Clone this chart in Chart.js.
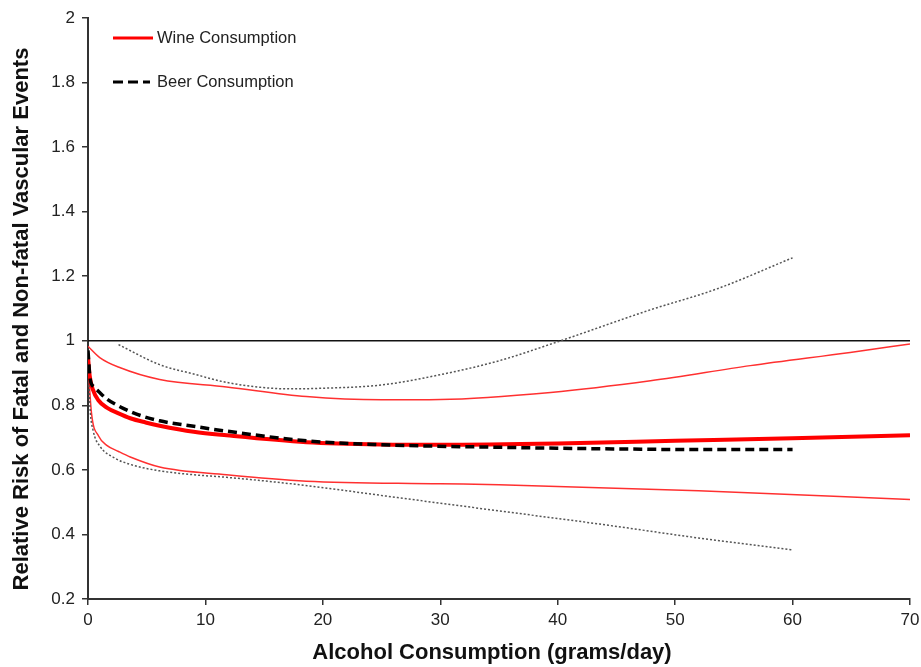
<!DOCTYPE html>
<html>
<head>
<meta charset="utf-8">
<script src="https://cdn.jsdelivr.net/npm/chart.js@4.4.1/dist/chart.umd.min.js"></script>
<style>
	html, body { margin: 0; padding: 0; background: #fff; }
</style>
</head>
<body>
<canvas id="myChart" width="921" height="667"></canvas>
<script>
/* 음주량에 따른 혈관 사건 상대위험 */
var xTicks = [0, 10, 20, 30, 40, 50, 60, 70];
var yTicks = [0.2, 0.4, 0.6, 0.8, 1, 1.2, 1.4, 1.6, 1.8, 2];
var legendLabels = ['Wine Consumption', 'Beer Consumption'];
var xTitle = 'Alcohol Consumption (grams/day)';
var yTitle = 'Relative Risk of Fatal and Non-fatal Vascular Events';

// wine - point estimate
var wineX = [0, 0.15, 0.4, 0.9, 1.6, 2.6, 3.6, 4.9, 6.1, 9, 11.8, 18.6, 25, 30, 40, 50, 60, 70];
var wineY = [0.95, 0.89, 0.85, 0.815, 0.793, 0.775, 0.76, 0.747, 0.737, 0.718, 0.707, 0.686, 0.679, 0.678, 0.682, 0.69, 0.698, 0.707];
// wine - 95% CI
var wineUpX = [0, 1, 2.7, 6.1, 11.8, 18.6, 25, 30, 39.4, 47.9, 56.4, 64.9, 70];
var wineUpY = [0.983, 0.948, 0.917, 0.88, 0.857, 0.827, 0.817, 0.818, 0.84, 0.876, 0.923, 0.964, 0.99];
var wineLoX = [0, 0.3, 0.9, 1.6, 2.6, 3.6, 6.1, 11.8, 18.6, 30, 35, 52, 70];
var wineLoY = [0.93, 0.775, 0.705, 0.676, 0.657, 0.64, 0.609, 0.585, 0.565, 0.557, 0.554, 0.535, 0.508];

// beer - point estimate
var beerX = [0, 0.17, 0.5, 0.9, 1.6, 2.6, 3.6, 4.6, 6.1, 9, 11.8, 18.6, 25, 35, 45, 52, 60];
var beerY = [0.97, 0.885, 0.857, 0.843, 0.82, 0.798, 0.781, 0.767, 0.752, 0.735, 0.72, 0.69, 0.678, 0.67, 0.665, 0.663, 0.663];
// beer - 95% CI
var beerUpX = [2.6, 6.1, 9, 11.8, 14.65, 17, 20, 25, 30, 35, 40, 47.9, 53.5, 60];
var beerUpY = [0.988, 0.926, 0.897, 0.871, 0.856, 0.851, 0.853, 0.863, 0.895, 0.938, 0.997, 1.096, 1.16, 1.257];
var beerLoX = [0, 0.17, 0.45, 1, 2.2, 3.6, 6.1, 9, 11.8, 18, 26.6, 35, 43.6, 52, 60];
var beerLoY = [0.95, 0.793, 0.72, 0.674, 0.638, 0.617, 0.597, 0.585, 0.577, 0.554, 0.513, 0.473, 0.432, 0.389, 0.352];

// reference line RR = 1
var refX = [0, 70];
var refY = [1, 1];

function toPoints(xs, ys) {
	return xs.map(function (x, i) {
		return { x: x, y: ys[i] };
	});
}

var FONT = "'Liberation Sans', Arial, sans-serif";
Chart.defaults.font.family = FONT;
Chart.defaults.color = '#222';

function lineSet(label, xs, ys, color, width, dash, order) {
	return {
		label: label,
		data: toPoints(xs, ys),
		borderColor: color,
		borderWidth: width,
		borderDash: dash,
		pointRadius: 0,
		fill: false,
		cubicInterpolationMode: 'monotone',
		order: order
	};
}

// legend + axis titles
const legendPlugin = {
	id: 'legendPlugin',
	afterDraw(chart) {
		const ctx = chart.ctx;
		ctx.save();
		ctx.font = "16.5px " + FONT;
		ctx.textBaseline = 'middle';
		ctx.fillStyle = '#222';
		// wine
		ctx.strokeStyle = '#ff0000';
		ctx.lineWidth = 3;
		ctx.setLineDash([]);
		ctx.beginPath();
		ctx.moveTo(113, 38);
		ctx.lineTo(153, 38);
		ctx.stroke();
		ctx.fillText(legendLabels[0], 157, 38);
		// beer
		ctx.strokeStyle = '#000';
		ctx.setLineDash([10, 5]);
		ctx.beginPath();
		ctx.moveTo(113, 82);
		ctx.lineTo(150, 82);
		ctx.stroke();
		ctx.fillText(legendLabels[1], 157, 82);

		// titles
		ctx.fillStyle = '#111';
		ctx.font = "bold 22px " + FONT;
		ctx.textAlign = 'center';
		ctx.fillText(xTitle, 492, 653);
		ctx.translate(22, 319);
		ctx.rotate(-Math.PI / 2);
		ctx.fillText(yTitle, 0, 0);
		ctx.restore();
	}
};

var ctx = document.getElementById('myChart');
var myChart = new Chart(ctx, {
	type: 'line',
	data: {
		datasets: [
			lineSet('ref', refX, refY, '#111', 1.5, [], 6),
			lineSet('wine upper', wineUpX, wineUpY, '#ff3030', 1.5, [], 4),
			lineSet('wine lower', wineLoX, wineLoY, '#ff3030', 1.5, [], 4),
			lineSet('beer upper', beerUpX, beerUpY, '#555', 1.5, [2, 2], 3),
			lineSet('beer lower', beerLoX, beerLoY, '#555', 1.5, [2, 2], 3),
			lineSet(legendLabels[0], wineX, wineY, '#ff0000', 4, [], 2),
			lineSet(legendLabels[1], beerX, beerY, '#000', 3.5, [9, 5], 1)
		]
	},
	options: {
		responsive: false,
		animation: false,
		layout: {
			padding: { left: 0, right: 11, top: 18, bottom: 0 }
		},
		plugins: {
			legend: { display: false },
			tooltip: { enabled: false }
		},
		scales: {
			x: {
				type: 'linear',
				min: 0,
				max: 70,
				afterBuildTicks: function (scale) {
					scale.ticks = xTicks.map(function (v) { return { value: v }; });
				},
				afterFit: function (scale) {
					scale.paddingRight = 0;
					scale.paddingLeft = 0;
					scale.height = 68;
				},
				ticks: {
					font: { size: 17 },
					color: '#222',
					padding: 5,
					maxRotation: 0,
					autoSkip: false
				},
				grid: {
					drawOnChartArea: false,
					drawTicks: true,
					tickLength: 6,
					color: '#333',
					lineWidth: 1.5
				},
				border: { color: '#333', width: 2 }
			},
			y: {
				type: 'linear',
				min: 0.2,
				max: 2,
				afterBuildTicks: function (scale) {
					scale.ticks = yTicks.map(function (v) { return { value: v }; });
				},
				afterFit: function (scale) {
					scale.paddingTop = 0;
					scale.paddingBottom = 0;
					scale.width = 88;
				},
				ticks: {
					font: { size: 17 },
					color: '#222',
					padding: 7,
					callback: function (v) { return String(v); }
				},
				grid: {
					drawOnChartArea: false,
					drawTicks: true,
					tickLength: 6,
					color: '#333',
					lineWidth: 1.5
				},
				border: { color: '#333', width: 2 }
			}
		}
	},
	plugins: [legendPlugin]
});
</script>
</body>
</html>
